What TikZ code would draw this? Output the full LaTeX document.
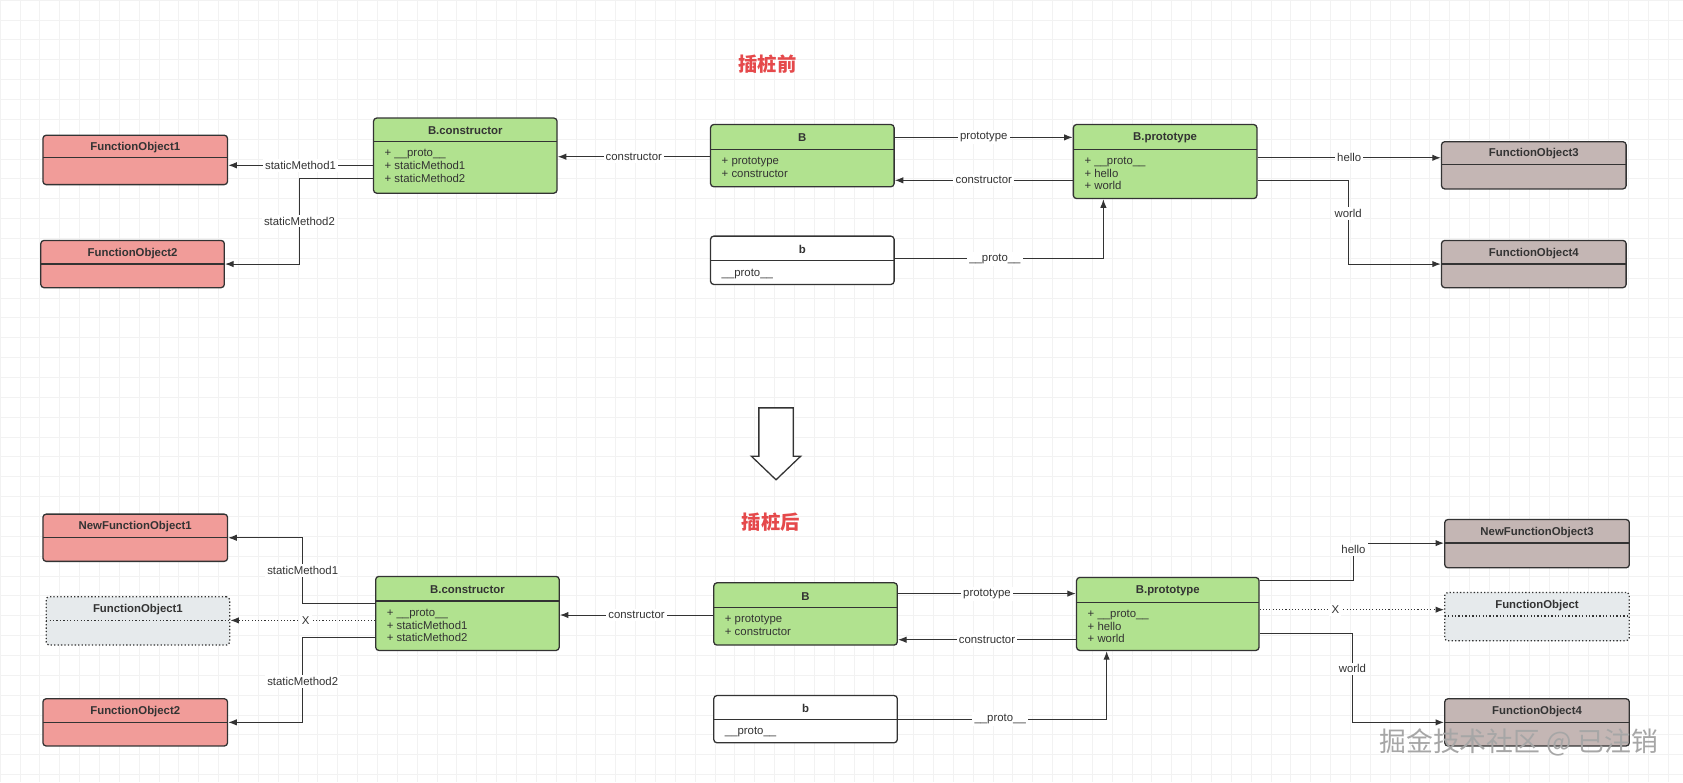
\documentclass[tikz,border=0pt]{standalone}
\usepackage{fontspec}
\setmainfont{Liberation Sans}
\newfontfamily\cjk{Noto Sans CJK SC}
\usetikzlibrary{arrows.meta,fit,calc}
\definecolor{redbox}{HTML}{F19C99}
\definecolor{greenbox}{HTML}{B1E28F}
\definecolor{graybox}{HTML}{C4B6B4}
\definecolor{paleBox}{HTML}{E6EAEC}
\definecolor{titlered}{HTML}{E5494B}
\definecolor{ink}{HTML}{333333}
\tikzset{
  box/.style={draw=ink, line width=0.6pt, rounded corners=1.5pt, inner sep=0pt},
  redcls/.style={box, fill=redbox},
  greencls/.style={box, fill=greenbox},
  graycls/.style={box, fill=graybox},
  whitecls/.style={box, fill=white},
  ghostcls/.style={box, fill=paleBox, densely dotted},
  link/.style={draw=ink, line width=0.5pt, -{Latex[length=4pt,width=3pt]}},
  lbl/.style={fill=white, inner sep=1pt, font=\fontsize{5.3}{6}\selectfont, text=ink},
  heading/.style={font=\cjk\bfseries\fontsize{9}{10}\selectfont, text=titlered}
}
% name, x1, y1, x2, y2, header line, title, fields, style
\newcommand\umlbox[9]{%
  \node[#9, fit={(#2,#3) (#4,#5)}] (#1) {};
  \draw[#9, fill=none, rounded corners=0pt] (#2,#6) -- (#4,#6);
  \node[font=\bfseries\fontsize{5.3}{6}\selectfont, text=ink] at ({(#2+#4)/2},{(#3+#6)/2+1}) {#7};
  \node[anchor=north west, align=left, inner sep=0pt, font=\fontsize{5.3}{5.9}\selectfont, text=ink] at (#2+10,#6+7) {#8};
}
\begin{document}
\begin{tikzpicture}[x=0.5pt,y=-0.5pt]
\useasboundingbox (0,0) rectangle (1568,729);
\fill[white] (0,0) rectangle (1568,729);
\foreach \gx in {0,18.5,...,1568} \draw[gray!10, line width=0.3pt] (\gx,0) -- (\gx,729);
\foreach \gy in {0,18.5,...,729} \draw[gray!10, line width=0.3pt] (0,\gy) -- (1568,\gy);

% before
\node[heading] (t1) at (715,60) {插桩前};
\umlbox{fa}{40}{126}{212}{172}{147}{FunctionObject1}{}{redcls}
\umlbox{fb}{38}{224}{209}{268}{246}{FunctionObject2}{}{redcls}
\umlbox{bc}{348}{110}{519}{180}{132}{B.constructor}{+ \_\_proto\_\_\\+ staticMethod1\\+ staticMethod2}{greencls}
\umlbox{cb}{662}{116}{833}{174}{139}{B}{+ prototype\\+ constructor}{greencls}
\umlbox{ob}{662}{220}{833}{265}{243}{b}{\_\_proto\_\_}{whitecls}
\umlbox{bp}{1000}{116}{1171}{185}{139}{B.prototype}{+ \_\_proto\_\_\\+ hello\\+ world}{greencls}
\umlbox{fc}{1343}{132}{1515}{176}{153}{FunctionObject3}{}{graycls}
\umlbox{fd}{1343}{224}{1515}{268}{246}{FunctionObject4}{}{graycls}

\draw[link] (cb.west |- 0,146) -- node[lbl] {constructor} (bc.east |- 0,146);
\draw[link] (bc.west |- 0,154) -- node[lbl] {staticMethod1} (fa.east |- 0,154);
\draw[link] (bc.west |- 0,166) -- (279,166) -- node[lbl] {staticMethod2} (279,246) -- (fb.east |- 0,246);
\draw[link] (cb.east |- 0,128) -- node[lbl] {prototype} (bp.west |- 0,128);
\draw[link] (bp.west |- 0,168) -- node[lbl] {constructor} (cb.east |- 0,168);
\draw[link] (ob.east |- 0,241) -- node[lbl, pos=0.48] {\_\_proto\_\_} (1028,241) -- (1028,0 |- bp.south);
\draw[link] (bp.east |- 0,147) -- node[lbl] {hello} (fc.west |- 0,147);
\draw[link] (bp.east |- 0,168) -- (1256,168) -- node[lbl, pos=0.4] {world} (1256,246) -- (fd.west |- 0,246);

% arrow between
\draw[ink, line width=0.6pt, fill=white] (707,380) -- (739,380) -- (739,425) -- (746,425) -- (723,447) -- (700,425) -- (707,425) -- cycle;

% after
\node[heading] (t2) at (718,486) {插桩后};
\umlbox{na}{40}{479}{212}{523}{501}{NewFunctionObject1}{}{redcls}
\umlbox{ga}{43}{556}{214}{601}{578}{FunctionObject1}{}{ghostcls}
\umlbox{nb}{40}{651}{212}{695}{673}{FunctionObject2}{}{redcls}
\umlbox{nbc}{350}{537}{521}{606}{560}{B.constructor}{+ \_\_proto\_\_\\+ staticMethod1\\+ staticMethod2}{greencls}
\umlbox{ncb}{665}{543}{836}{601}{566}{B}{+ prototype\\+ constructor}{greencls}
\umlbox{nob}{665}{648}{836}{692}{670}{b}{\_\_proto\_\_}{whitecls}
\umlbox{nbp}{1003}{538}{1173}{606}{561}{B.prototype}{+ \_\_proto\_\_\\+ hello\\+ world}{greencls}
\umlbox{nc}{1346}{484}{1518}{529}{506}{NewFunctionObject3}{}{graycls}
\umlbox{gc}{1346}{552}{1518}{597}{574}{FunctionObject}{}{ghostcls}
\umlbox{nd}{1346}{651}{1518}{695}{673}{FunctionObject4}{}{graycls}

\draw[link] (ncb.west |- 0,573) -- node[lbl] {constructor} (nbc.east |- 0,573);
\draw[link] (nbc.west |- 0,562) -- (282,562) -- node[lbl] {staticMethod1} (282,501) -- (na.east |- 0,501);
\draw[link, densely dotted] (nbc.west |- 0,578) -- node[lbl, pos=0.48] {X} (ga.east |- 0,578);
\draw[link] (nbc.west |- 0,594) -- (282,594) -- node[lbl, pos=0.52] {staticMethod2} (282,673) -- (nb.east |- 0,673);
\draw[link] (ncb.east |- 0,553) -- node[lbl] {prototype} (nbp.west |- 0,553);
\draw[link] (nbp.west |- 0,596) -- node[lbl] {constructor} (ncb.east |- 0,596);
\draw[link] (nob.east |- 0,670) -- node[lbl, pos=0.49] {\_\_proto\_\_} (1031,670) -- (1031,0 |- nbp.south);
\draw[link] (nbp.east |- 0,541) -- (1261,541) -- (1261,506) -- (nc.west |- 0,506);
\node[lbl] (hl) at (1261,512) {hello};
\draw[link, densely dotted] (nbp.east |- 0,568) -- node[lbl, pos=0.41] {X} (gc.west |- 0,568);
\draw[link] (nbp.east |- 0,590) -- (1260,590) -- node[lbl, pos=0.4] {world} (1260,673) -- (nd.west |- 0,673);

\node[font=\cjk\fontsize{12.5}{14}\selectfont, text=gray!70, anchor=east] (wm) at (1552,692) {掘金技术社区 @ 已注销};
\end{tikzpicture}
\end{document}
